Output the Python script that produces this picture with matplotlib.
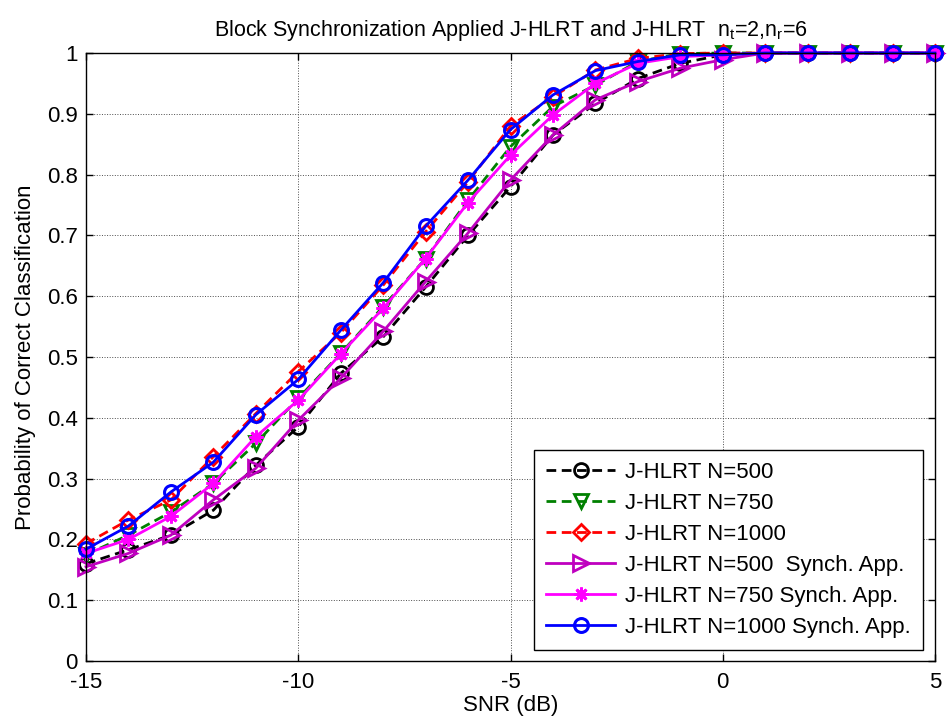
import matplotlib
matplotlib.use('Agg')
import matplotlib.pyplot as plt
import numpy as np

# police type Arial
plt.rcParams['font.family'] = ['Liberation Sans', 'DejaVu Sans']
plt.rcParams['mathtext.fontset'] = 'custom'
plt.rcParams['mathtext.rm'] = 'Liberation Sans'
plt.rcParams['mathtext.it'] = 'Liberation Sans'
plt.rcParams['mathtext.default'] = 'regular'
plt.rcParams['axes.unicode_minus'] = False

# donnees
snr = [-15, -14, -13, -12, -11, -10, -9, -8, -7, -6, -5, -4, -3, -2, -1, 0, 1, 2, 3, 4, 5]

n500 = [0.160, 0.183, 0.207, 0.248, 0.322, 0.385, 0.473, 0.533, 0.615, 0.700, 0.780, 0.865, 0.917, 0.958, 0.983, 0.997, 1, 1, 1, 1, 1]
n750 = [0.175, 0.207, 0.245, 0.292, 0.358, 0.432, 0.506, 0.583, 0.662, 0.758, 0.846, 0.912, 0.947, 0.986, 0.999, 1.0, 1, 1, 1, 1, 1]
n1000 = [0.193, 0.232, 0.265, 0.336, 0.407, 0.476, 0.540, 0.618, 0.706, 0.788, 0.880, 0.928, 0.972, 0.991, 0.999, 1.0, 1, 1, 1, 1, 1]
n500_s = [0.155, 0.177, 0.207, 0.265, 0.317, 0.396, 0.465, 0.542, 0.624, 0.704, 0.791, 0.865, 0.923, 0.953, 0.975, 0.989, 1, 1, 1, 1, 1]
n750_s = [0.177, 0.200, 0.238, 0.292, 0.369, 0.429, 0.505, 0.580, 0.662, 0.754, 0.832, 0.898, 0.950, 0.983, 0.994, 0.997, 1, 1, 1, 1, 1]
n1000_s = [0.184, 0.222, 0.278, 0.327, 0.405, 0.463, 0.544, 0.622, 0.715, 0.791, 0.874, 0.931, 0.971, 0.986, 0.997, 0.997, 1, 1, 1, 1, 1]

labels = ['J-HLRT N=500', 'J-HLRT N=750', 'J-HLRT N=1000',
          'J-HLRT N=500  Synch. App.', 'J-HLRT N=750 Synch. App.', 'J-HLRT N=1000 Synch. App.']

FS = 16
LW = 2
MS = 10

fig = plt.figure(figsize=(9.47, 7.22), dpi=100)
ax = fig.add_axes([86/947, 61/722, 849/947, 608/722])

dash = (3.5, 2)
ax.plot(snr, n500, color='k', ls='--', dashes=dash, lw=LW, marker='o', ms=MS, mfc='none', mew=2, label=labels[0], clip_on=False)
ax.plot(snr, n750, color='#008000', ls='--', dashes=dash, lw=LW, marker='v', ms=MS, mfc='none', mew=2, label=labels[1], clip_on=False)
ax.plot(snr, n1000, color='#FF0000', ls='--', dashes=dash, lw=LW, marker='D', ms=8, mfc='none', mew=2, label=labels[2], clip_on=False)
ax.plot(snr, n500_s, color='#BF00BF', ls='-', lw=LW, marker='>', ms=MS + 1, mfc='none', mew=2, label=labels[3], clip_on=False)
ax.plot(snr, n750_s, color='#FF00FF', ls='-', lw=LW, marker=(8, 2, 0), ms=MS, mew=2, label=labels[4], clip_on=False)
ax.plot(snr, n1000_s, color='#0000FF', ls='-', lw=LW, marker='o', ms=MS, mfc='none', mew=2.2, label=labels[5], clip_on=False)

ax.set_xlim(-15, 5)
ax.set_ylim(0, 1)
ax.set_xticks([-15, -10, -5, 0, 5])
ax.set_yticks(np.arange(0, 1.01, 0.1))
ax.set_yticklabels(['0', '0.1', '0.2', '0.3', '0.4', '0.5', '0.6', '0.7', '0.8', '0.9', '1'])
ax.tick_params(direction='in', top=True, right=True, labelsize=FS, length=5, width=1)
ax.tick_params(axis='x', pad=8)
ax.tick_params(axis='y', pad=6)
ax.grid(True, ls=':', color='0.3', lw=0.7)
for s in ax.spines.values():
    s.set_linewidth(1)

ax.set_xlabel('SNR (dB)', fontsize=FS, labelpad=1)
ax.set_ylabel('Probability of Correct Classification', fontsize=FS, labelpad=8)
ax.set_title(r'Block Synchronization Applied J-HLRT and J-HLRT  n$_t$=2,n$_r$=6', fontsize=15.5, pad=12)

leg = ax.legend(loc='lower right', bbox_to_anchor=(0.986, 0.018), borderaxespad=0,
                fontsize=FS, fancybox=False, framealpha=1, edgecolor='k',
                handlelength=3.1, labelspacing=0.45, borderpad=0.55, handletextpad=0.45)
leg.get_frame().set_linewidth(1)

fig.savefig('out.png', dpi=100)
